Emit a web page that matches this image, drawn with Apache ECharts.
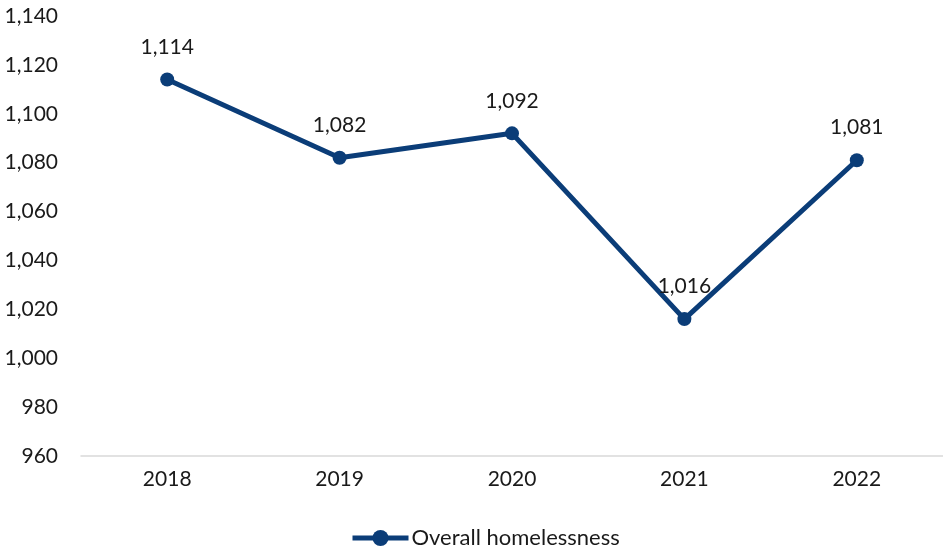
<!DOCTYPE html>
<html>
<head>
<meta charset="utf-8">
<script src="https://cdn.jsdelivr.net/npm/echarts@6/dist/echarts.min.js"></script>
<style>
  html, body { margin: 0; padding: 0; background: #ffffff; }
  #chart { width: 943px; height: 555px; }
</style>
</head>
<body>
<div id="chart"></div>
<script>
// Yearly counts of overall homelessness
const years = ['2018', '2019', '2020', '2021', '2022'];
const overallHomelessness = [1114, 1082, 1092, 1016, 1081];
const seriesName = 'Overall homelessness';

const FONT = 'Lato, "Open Sans", sans-serif';
const navy = '#0b3d78';

const fmt = v => v.toLocaleString('en-US');

const chart = echarts.init(document.getElementById('chart'), null, { renderer: 'canvas' });
chart.setOption({
  animation: false,
  backgroundColor: '#ffffff',
  grid: { left: 81, right: 0, top: 16, bottom: 99, containLabel: false },
  legend: {
    bottom: 1,
    left: 345,
    itemWidth: 56,
    itemHeight: 20,
    itemGap: 4,
    lineStyle: { width: 5, color: navy },
    itemStyle: { color: navy },
    textStyle: { fontFamily: FONT, fontSize: 22, color: '#1a1a1a', padding: [0, 0, 0, -2] },
    data: [seriesName]
  },
  xAxis: {
    type: 'category',
    data: years,
    boundaryGap: true,
    axisLine: { lineStyle: { color: '#d9d9d9', width: 1.5 } },
    axisTick: { show: false },
    axisLabel: { fontFamily: FONT, fontSize: 21, color: '#1a1a1a', margin: 13 }
  },
  yAxis: {
    type: 'value',
    min: 960,
    max: 1140,
    interval: 20,
    splitLine: { show: false },
    axisLine: { show: false },
    axisTick: { show: false },
    axisLabel: { fontFamily: FONT, fontSize: 21, color: '#1a1a1a', margin: 23, formatter: fmt }
  },
  series: [{
    name: seriesName,
    type: 'line',
    data: overallHomelessness,
    symbol: 'circle',
    symbolSize: 14,
    lineStyle: { color: navy, width: 5 },
    itemStyle: { color: navy },
    z: 3,
    label: {
      show: true,
      position: 'top',
      distance: 15,
      fontFamily: FONT,
      fontSize: 21,
      color: '#1a1a1a',
      formatter: p => fmt(p.value)
    },
    labelLayout: { hideOverlap: false }
  }]
});
</script>
</body>
</html>
